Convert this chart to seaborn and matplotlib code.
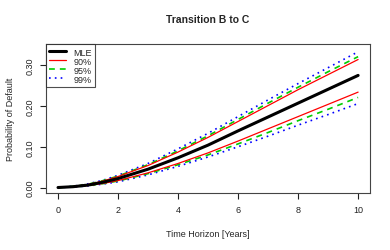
import matplotlib
matplotlib.use('Agg')
import matplotlib.pyplot as plt
import seaborn as sns
import pandas as pd

# Time horizon grid (years)
years = [0, 0.5, 1, 1.5, 2, 3, 4, 5, 6, 7, 8, 9, 10]

# Probability of default, MLE and confidence bounds
mle = [0, 0.002, 0.006, 0.013, 0.022, 0.045, 0.073, 0.104, 0.139, 0.173, 0.207, 0.241, 0.275]
up90 = [0, 0.0025, 0.0075, 0.016, 0.027, 0.054, 0.087, 0.123, 0.162, 0.201, 0.240, 0.277, 0.314]
lo90 = [0, 0.0015, 0.005, 0.010, 0.017, 0.036, 0.059, 0.085, 0.114, 0.144, 0.174, 0.204, 0.234]
up95 = [0, 0.0027, 0.008, 0.017, 0.028, 0.056, 0.090, 0.127, 0.167, 0.207, 0.246, 0.284, 0.321]
lo95 = [0, 0.0014, 0.0045, 0.0095, 0.016, 0.034, 0.056, 0.080, 0.107, 0.135, 0.164, 0.192, 0.221]
up99 = [0, 0.003, 0.009, 0.018, 0.030, 0.059, 0.095, 0.133, 0.174, 0.215, 0.255, 0.294, 0.333]
lo99 = [0, 0.0012, 0.004, 0.0085, 0.014, 0.031, 0.052, 0.075, 0.100, 0.126, 0.153, 0.179, 0.206]

x_ticks = [0, 2, 4, 6, 8, 10]
y_ticks = [0.00, 0.10, 0.20, 0.30]

sns.set_style('ticks')
plt.rcParams['font.family'] = ['Liberation Sans', 'DejaVu Sans']

fig = plt.figure(figsize=(3.9, 2.51), dpi=100)
ax = fig.add_axes([0.118, 0.227, 0.831, 0.592])

df = pd.DataFrame({'t': years, 'mle': mle, 'up90': up90, 'lo90': lo90,
                   'up95': up95, 'lo95': lo95, 'up99': up99, 'lo99': lo99})

# confidence bands first, MLE on top
styles = [
    ('up99', 'lo99', '#0000FF', (0, (1, 2.5)), 1.2, '99%'),
    ('up95', 'lo95', '#00CD00', (0, (3.5, 3)), 1.2, '95%'),
    ('up90', 'lo90', '#FF0000', '-', 0.9, '90%'),
]
for up, lo, col, ls, lw, lab in styles:
    sns.lineplot(data=df, x='t', y=up, ax=ax, color=col, linestyle=ls, lw=lw)
    sns.lineplot(data=df, x='t', y=lo, ax=ax, color=col, linestyle=ls, lw=lw)
sns.lineplot(data=df, x='t', y='mle', ax=ax, color='black', lw=2.2)

ax.set_xlim(-0.4, 10.4)
ax.set_ylim(-0.0135, 0.351)
ax.set_xticks(x_ticks)
ax.set_xticklabels([str(t) for t in x_ticks])
ax.set_yticks(y_ticks)
ax.set_yticklabels(['%.2f' % v for v in y_ticks], rotation=90, va='center')
ax.tick_params(axis='both', length=4, width=0.8, labelsize=6.5, pad=4.5,
               colors='#222222')
for s in ax.spines.values():
    s.set_color('#444444')
    s.set_linewidth(0.8)

ax.set_xlabel('Time Horizon [Years]', fontsize=6.5, labelpad=11)
ax.set_ylabel('Probability of Default', fontsize=6.5, labelpad=7)
ax.set_title('Transition B to C', fontsize=7.5, fontweight='bold', pad=16)

handles = [
    plt.Line2D([], [], color='black', lw=2.2),
    plt.Line2D([], [], color='#FF0000', lw=0.9),
    plt.Line2D([], [], color='#00CD00', lw=1.2, linestyle=(0, (3.5, 3))),
    plt.Line2D([], [], color='#0000FF', lw=1.2, linestyle=(0, (1, 2.5))),
]
leg = ax.legend(handles, ['MLE', '90%', '95%', '99%'], loc='upper left',
                bbox_to_anchor=(0, 1), fontsize=6.5, frameon=True, fancybox=False,
                borderpad=0.35, labelspacing=0.0, handlelength=1.9,
                handletextpad=0.8, borderaxespad=0)
leg.get_frame().set_edgecolor('#222222')
leg.get_frame().set_linewidth(0.8)

fig.savefig('out.png', dpi=100)
